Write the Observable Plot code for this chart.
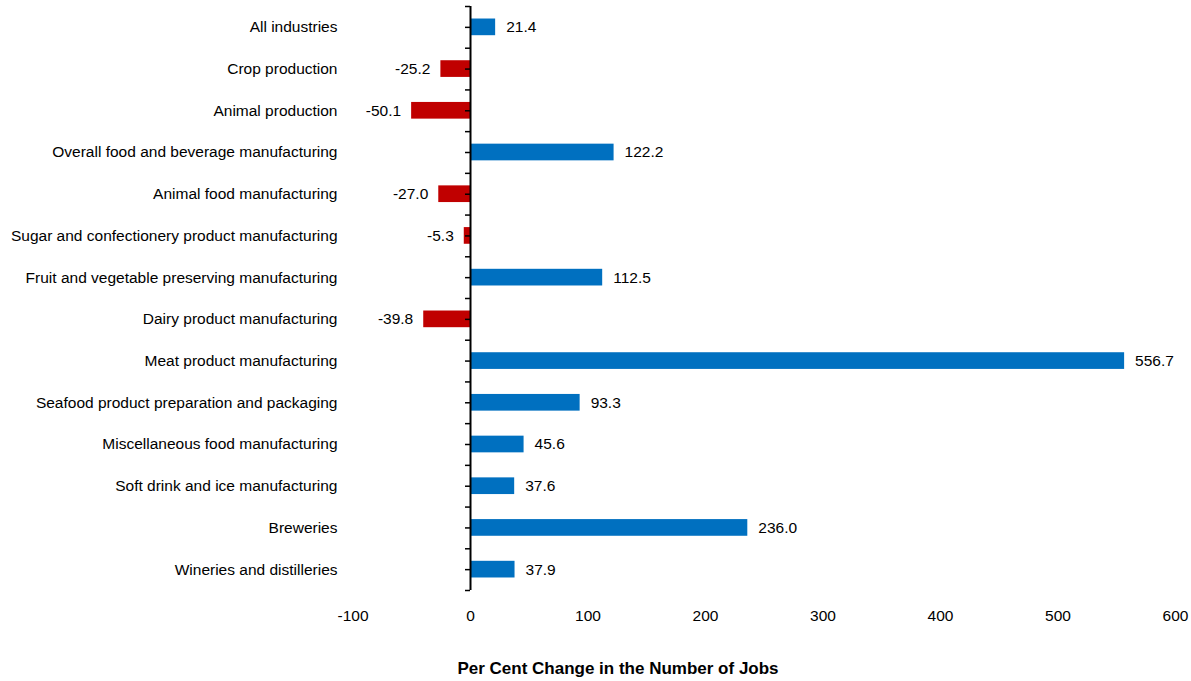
<!DOCTYPE html>
<html><head><meta charset="utf-8">
<script src="https://cdn.jsdelivr.net/npm/d3@7"></script>
<script src="https://cdn.jsdelivr.net/npm/@observablehq/plot@0.6"></script>
<style>
body{margin:0;background:#fff;font-family:"Liberation Sans",Arial,sans-serif;}
#title{width:1191px;box-sizing:border-box;padding-left:45px;text-align:center;font-weight:bold;font-size:17px;color:#000;margin-top:19px;}
</style></head>
<body><div id="chart"></div><div id="title">Per Cent Change in the Number of Jobs</div>
<script>
const categories = ["All industries","Crop production","Animal production","Overall food and beverage manufacturing","Animal food manufacturing","Sugar and confectionery product manufacturing","Fruit and vegetable preserving manufacturing","Dairy product manufacturing","Meat product manufacturing","Seafood product preparation and packaging","Miscellaneous food manufacturing","Soft drink and ice manufacturing","Breweries","Wineries and distilleries"];
const values = [21.4,-25.2,-50.1,122.2,-27.0,-5.3,112.5,-39.8,556.7,93.3,45.6,37.6,236.0,37.9];
const xTicks = [-100,0,100,200,300,400,500,600];
const data = categories.map((c,i)=>({category:c,value:values[i]}));
const pos = data.filter(d=>d.value>=0), neg = data.filter(d=>d.value<0);
const H = 640, mT = 6, mB = 50;
const step = (H - mT - mB) / categories.length;
const plot = Plot.plot({
  width:1191, height:H,
  marginLeft:352.5, marginRight:16, marginTop:mT, marginBottom:mB,
  style:{fontFamily:"Liberation Sans, Arial, sans-serif", fontSize:"15.5px", color:"#000"},
  x:{domain:[-100,600], ticks:xTicks, label:null, tickSize:0, tickPadding:19, tickFormat:d=>String(d)},
  y:{domain:categories, paddingInner:0.6, paddingOuter:0.3, round:false, label:null, tickSize:0, tickPadding:15.5},
  marks:[
    Plot.barX(data,{x:"value",y:"category",fill:d=>d.value<0?"#C00000":"#0070C0"}),
    Plot.ruleX([0],{stroke:"#000",strokeWidth:2}),
    Plot.ruleY(categories,{y:d=>d,x1:0,x2:0,insetLeft:-5,insetRight:0,stroke:"#000",strokeWidth:1.5}),
    Plot.ruleY(categories,{y:d=>d,x1:0,x2:0,insetLeft:-5,insetRight:0,dy:-step/2,stroke:"#000",strokeWidth:1.5}),
    Plot.ruleY(categories.slice(-1),{y:d=>d,x1:0,x2:0,insetLeft:-5,insetRight:0,dy:step/2,stroke:"#000",strokeWidth:1.5}),
    Plot.text(pos,{x:"value",y:"category",text:d=>d.value.toFixed(1),textAnchor:"start",dx:10.5,fontSize:15.5,fill:"#000"}),
    Plot.text(neg,{x:"value",y:"category",text:d=>d.value.toFixed(1),textAnchor:"end",dx:-10.5,fontSize:15.5,fill:"#000"}),
  ]
});
document.getElementById("chart").appendChild(plot);
</script></body></html>
